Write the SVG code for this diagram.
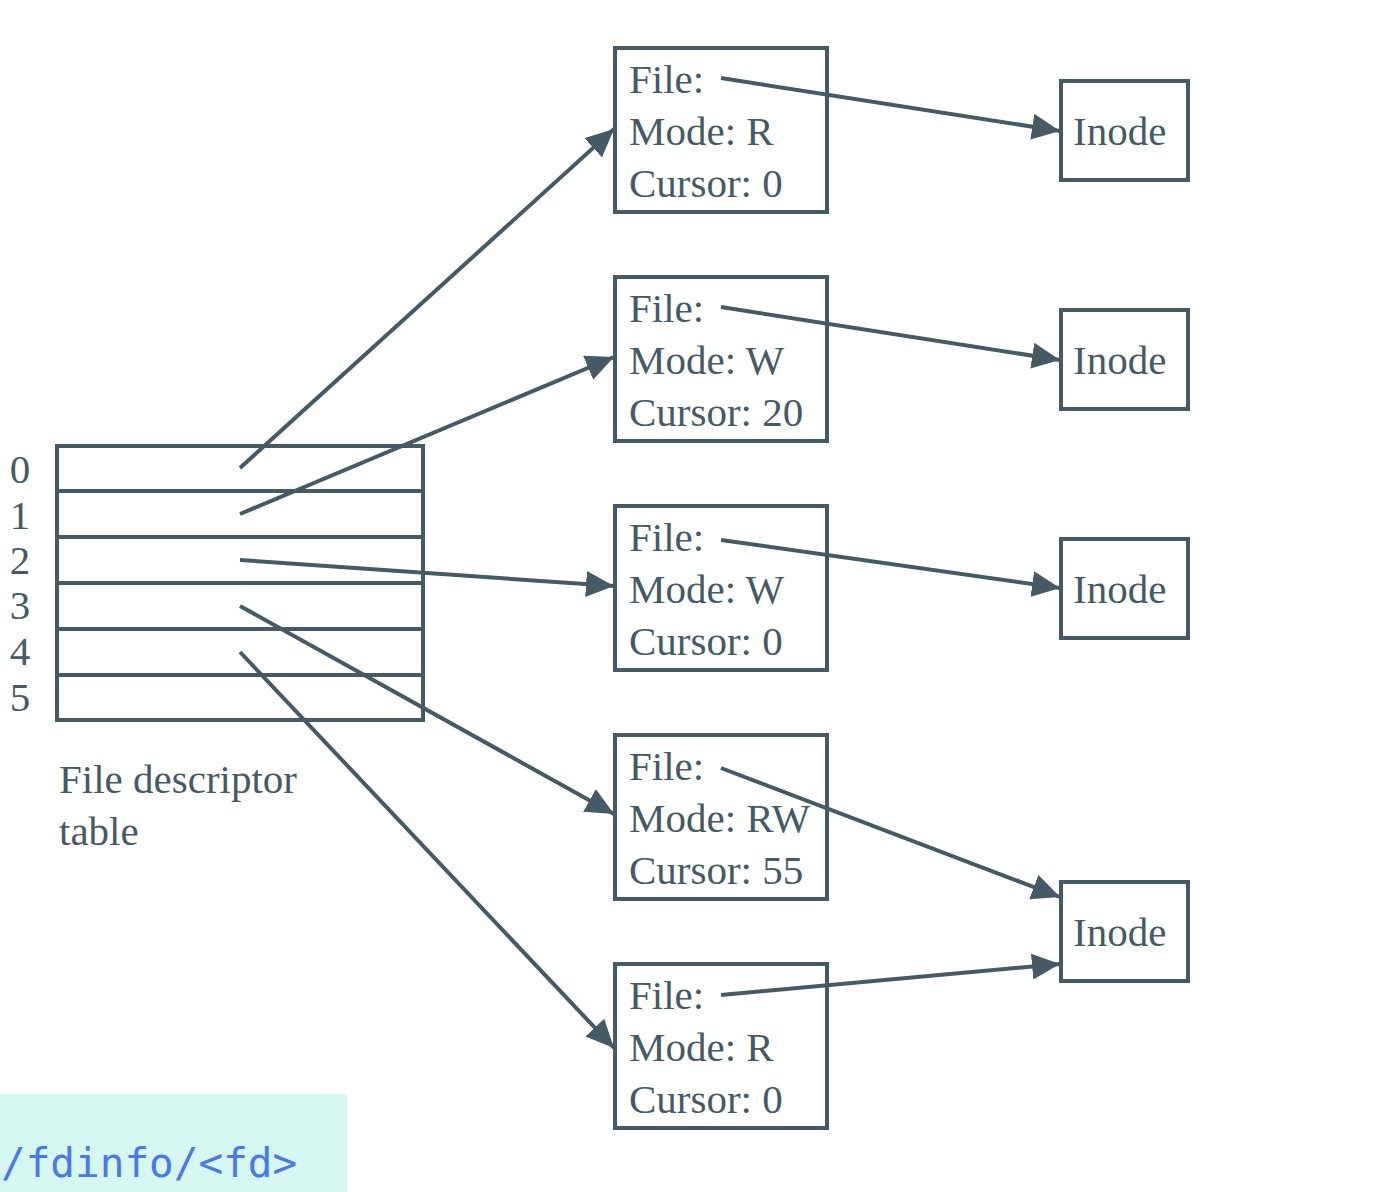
<svg xmlns="http://www.w3.org/2000/svg" width="1397" height="1192" viewBox="0 0 1397 1192">
<style>
.b{fill:none;stroke:#455a64;stroke-width:4}
.t{font-family:'Liberation Serif','Times New Roman',serif;font-size:41px;fill:#455a64}
.c{stroke:#455a64;stroke-width:4;fill:none;marker-end:url(#ah)}
</style>
<defs>
<marker id="ah" markerUnits="userSpaceOnUse" markerWidth="30" markerHeight="26" refX="28" refY="13" orient="auto">
<path d="M0,0 L28,13 L0,26 Z" fill="#455a64"/>
</marker>
</defs>
<rect width="1397" height="1192" fill="#ffffff"/>
<g id="fd-table">
<rect class="b" x="57" y="446" width="366" height="274"/>
<line class="b" x1="57" y1="491" x2="423" y2="491"/>
<line class="b" x1="57" y1="537" x2="423" y2="537"/>
<line class="b" x1="57" y1="583" x2="423" y2="583"/>
<line class="b" x1="57" y1="629" x2="423" y2="629"/>
<line class="b" x1="57" y1="675" x2="423" y2="675"/>
<g class="t" text-anchor="middle">
<text x="20" y="483">0</text>
<text x="20" y="529">1</text>
<text x="20" y="574">2</text>
<text x="20" y="619">3</text>
<text x="20" y="665">4</text>
<text x="20" y="711">5</text>
</g>
<text class="t" x="59" y="793">File descriptor</text>
<text class="t" x="59" y="845">table</text>
</g>
<g id="file1"><rect class="b" x="615" y="48" width="212" height="164"/><text class="t" x="629" y="93">File:</text><text class="t" x="629" y="145">Mode: R</text><text class="t" x="629" y="197">Cursor: 0</text></g>
<g id="file2"><rect class="b" x="615" y="277" width="212" height="164"/><text class="t" x="629" y="322">File:</text><text class="t" x="629" y="374">Mode: W</text><text class="t" x="629" y="426">Cursor: 20</text></g>
<g id="file3"><rect class="b" x="615" y="506" width="212" height="164"/><text class="t" x="629" y="551">File:</text><text class="t" x="629" y="603">Mode: W</text><text class="t" x="629" y="655">Cursor: 0</text></g>
<g id="file4"><rect class="b" x="615" y="735" width="212" height="164"/><text class="t" x="629" y="780">File:</text><text class="t" x="629" y="832">Mode: RW</text><text class="t" x="629" y="884">Cursor: 55</text></g>
<g id="file5"><rect class="b" x="615" y="964" width="212" height="164"/><text class="t" x="629" y="1009">File:</text><text class="t" x="629" y="1061">Mode: R</text><text class="t" x="629" y="1113">Cursor: 0</text></g>
<g id="inode1"><rect class="b" x="1061" y="81" width="127" height="99"/><text class="t" x="1073" y="145">Inode</text></g>
<g id="inode2"><rect class="b" x="1061" y="310" width="127" height="99"/><text class="t" x="1073" y="374">Inode</text></g>
<g id="inode3"><rect class="b" x="1061" y="539" width="127" height="99"/><text class="t" x="1073" y="603">Inode</text></g>
<g id="inode4"><rect class="b" x="1061" y="882" width="127" height="99"/><text class="t" x="1073" y="946">Inode</text></g>
<g id="connectors">
<line class="c" x1="240" y1="468" x2="614" y2="129"/>
<line class="c" x1="240" y1="514" x2="614" y2="357"/>
<line class="c" x1="240" y1="560" x2="614" y2="586"/>
<line class="c" x1="240" y1="606" x2="614" y2="814"/>
<line class="c" x1="240" y1="652" x2="614" y2="1048"/>
<line class="c" x1="721" y1="78" x2="1060" y2="131"/>
<line class="c" x1="721" y1="307" x2="1060" y2="360"/>
<line class="c" x1="721" y1="540" x2="1060" y2="588"/>
<line class="c" x1="721" y1="768" x2="1060" y2="897"/>
<line class="c" x1="721" y1="995" x2="1060" y2="964"/>
</g>
<g id="code">
<rect x="-6" y="1094" width="353" height="110" rx="4" fill="#d5f6f1"/>
<text x="1" y="1177" font-family="DejaVu Sans Mono,monospace" font-size="41" fill="#4a78e6">/fdinfo/&lt;fd&gt;</text>
</g>
</svg>
